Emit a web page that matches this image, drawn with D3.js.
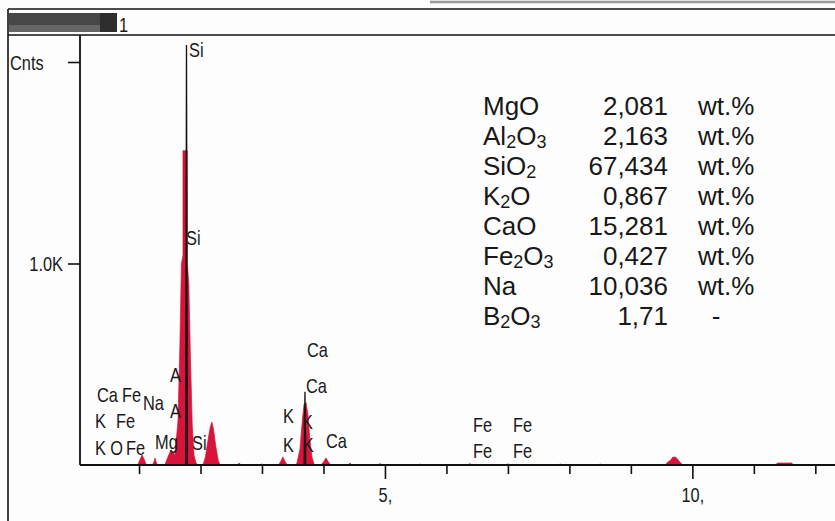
<!DOCTYPE html>
<html><head><meta charset="utf-8">
<script src="https://cdn.jsdelivr.net/npm/d3@7"></script>
<style>
html,body{margin:0;padding:0;background:#fff;}
svg{display:block;}
.lbl{font-family:"Liberation Sans Narrow","Arial Narrow","Liberation Sans",sans-serif;font-size:21px;fill:#1a1a1a;}
.tbl{font-family:"Liberation Sans",Arial,sans-serif;font-size:26px;fill:#181818;}
</style></head><body>
<svg id="c" width="835" height="521"></svg>
<script>
// ---- data ----
const xDomain = [0.04, 12.32];          // keV
const yDomain = [0, 2134];              // counts
const minorTicks = [1, 2, 3, 4, 6, 7, 8, 9, 11, 12];
const majorTicks = [5, 10];
const majorTickLabels = ["5,", "10,"];
const yTicks = [1000, 2000];
const yTickLabels = ["1.0K", "Cnts"];
const titleText = "1";

// red filled spectrum [keV, counts]
const spectrum = [
  [0.04,0],[0.97,0],[0.99,8],[1.02,30],[1.05,50],[1.08,30],[1.11,8],[1.13,0],
  [1.22,0],[1.245,18],[1.26,35],[1.275,18],[1.30,0],
  [1.42,0],[1.47,40],[1.52,75],[1.56,60],[1.585,50],[1.634,220],[1.665,600],[1.69,1000],
  [1.715,1040],[1.715,1560],[1.785,1560],[1.785,1000],[1.81,900],[1.835,550],[1.865,200],
  [1.894,50],[1.927,10],[1.96,0],
  [2.04,0],[2.08,40],[2.12,120],[2.16,190],[2.185,213],[2.21,180],[2.25,90],[2.29,20],[2.32,0],
  [2.60,0],[2.63,10],[2.66,0],[2.98,0],[3.00,6],[3.02,0],
  [3.27,0],[3.31,20],[3.34,40],[3.37,20],[3.41,0],
  [3.55,0],[3.569,10],[3.618,80],[3.65,200],[3.683,300],[3.715,310],[3.748,250],[3.78,120],[3.813,40],[3.846,5],[3.87,0],
  [3.96,0],[4.00,15],[4.04,35],[4.08,15],[4.12,0],
  [4.40,0],[4.43,10],[4.46,0],[4.89,0],[4.92,8],[4.95,0],[5.54,0],[5.57,5],[5.60,0],
  [6.35,0],[6.38,8],[6.41,0],[6.97,0],[7.00,6],[7.03,0],[7.82,0],[7.85,5],[7.88,0],[8.47,0],[8.50,5],[8.53,0],
  [9.56,0],[9.60,15],[9.64,22],[9.68,38],[9.72,40],[9.76,30],[9.80,12],[9.85,0],
  [11.36,0],[11.38,10],[11.62,10],[11.64,0],
  [12.32,0]
];
// black overlay spectrum [keV, counts]
const overlay = [
  [0.04,0],[1.758,0],[1.772,2084],[1.786,0],[3.686,0],[3.699,364],[3.712,0],[12.32,0]
];
// peak labels [text, keV (left edge), counts (baseline)]
const peakLabels = [
  ["Si",1.813,2025],["Si",1.764,1092],["Ca",3.732,536],["Ca",3.715,357],
  ["K",3.341,208],["K",3.650,179],["K",3.341,65],["K",3.665,65],["Ca",4.041,84],
  ["Ca",0.317,313],["Fe",0.724,313],["Na",1.065,273],["A",1.504,412],["A",1.504,233],
  ["K",0.285,184],["Fe",0.626,184],["K",0.285,50],["O",0.53,50],["Fe",0.79,50],
  ["Mg",1.260,79],["Si",1.862,74],
  ["Fe",6.431,164],["Fe",7.081,164],["Fe",6.431,35],["Fe",7.081,35]
];
// composition table
const compounds = ["MgO","Al2O3","SiO2","K2O","CaO","Fe2O3","Na","B2O3"];
const amounts = ["2,081","2,163","67,434","0,867","15,281","0,427","10,036","1,71"];
const units = ["wt.%","wt.%","wt.%","wt.%","wt.%","wt.%","wt.%","-"];

// ---- drawing ----
const svg = d3.select("#c");
const W = 835, H = 521;
const plot = {left: 80, right: 835, top: 35, bottom: 465};
const x = d3.scaleLinear().domain(xDomain).range([plot.left, plot.right]);
const y = d3.scaleLinear().domain(yDomain).range([plot.bottom, plot.top]);

svg.append("rect").attr("width", W).attr("height", H).attr("fill", "#fdfdfd");

// frame / title bar
svg.append("line").attr("x1", 8).attr("x2", W).attr("y1", 9).attr("y2", 9).attr("stroke", "#111").attr("stroke-width", 1.6);
svg.append("line").attr("x1", 8).attr("x2", W).attr("y1", 35).attr("y2", 35).attr("stroke", "#111").attr("stroke-width", 1.6);
svg.append("line").attr("x1", 8).attr("x2", 8).attr("y1", 9).attr("y2", H).attr("stroke", "#111").attr("stroke-width", 1.6);
svg.append("line").attr("x1", 430).attr("x2", W).attr("y1", 2).attr("y2", 2).attr("stroke", "#999").attr("stroke-width", 2.5);
// redacted title
svg.append("rect").attr("x", 9).attr("y", 13).attr("width", 108).attr("height", 19).attr("fill", "#474747");
svg.append("rect").attr("x", 9).attr("y", 25).attr("width", 108).attr("height", 7).attr("fill", "#666");
svg.append("rect").attr("x", 100).attr("y", 13).attr("width", 17).attr("height", 19).attr("fill", "#2e2e2e");
svg.append("text").attr("class", "lbl").attr("x", 119).attr("y", 32).text(titleText);

// spectrum
const area = d3.area().x(d => x(d[0])).y0(y(0)).y1(d => y(d[1]));
svg.append("path").datum(spectrum).attr("d", area).attr("fill", "#d8143a").attr("stroke", "#d8143a").attr("stroke-width", 0.7);
const line = d3.line().x(d => x(d[0])).y(d => y(d[1]));
svg.append("path").datum(overlay).attr("d", line).attr("fill", "none").attr("stroke", "#111").attr("stroke-width", 1.3);

// axes
const axisStyle = g => {
  g.select(".domain").remove();
  g.selectAll("line").attr("stroke", "#111").attr("stroke-width", 1.6);
  g.selectAll("text").attr("class", "lbl").attr("fill", "#1a1a1a")
    .attr("font-family", null).attr("font-size", null);
};
svg.append("g").attr("transform", `translate(0,${plot.bottom})`)
  .call(d3.axisBottom(x).tickValues(minorTicks).tickSize(9).tickFormat(""))
  .call(axisStyle);
svg.append("g").attr("transform", `translate(0,${plot.bottom})`)
  .call(d3.axisBottom(x).tickValues(majorTicks).tickSize(14).tickPadding(8)
    .tickFormat((d, i) => majorTickLabels[i]))
  .call(axisStyle);
const yAxisG = svg.append("g").attr("transform", `translate(${plot.left},0)`)
  .call(d3.axisLeft(y).tickValues(yTicks).tickSize(12).tickPadding(5)
    .tickFormat((d, i) => yTickLabels[i]))
  .call(axisStyle);
yAxisG.selectAll("text").attr("dy", "0.35em");
yAxisG.selectAll(".tick").filter(d => d === 2000).select("text")
  .attr("text-anchor", "start").attr("x", 10 - plot.left);

// axis lines
svg.append("line").attr("x1", plot.left).attr("x2", plot.left).attr("y1", plot.top).attr("y2", plot.bottom)
  .attr("stroke", "#111").attr("stroke-width", 1.8);
svg.append("line").attr("x1", plot.left).attr("x2", plot.right).attr("y1", plot.bottom).attr("y2", plot.bottom)
  .attr("stroke", "#111").attr("stroke-width", 1.8);

// peak labels
svg.append("g").selectAll("text").data(peakLabels).join("text")
  .attr("class", "lbl").attr("x", d => x(d[1])).attr("y", d => y(d[2])).text(d => d[0]);

// condense the label font (narrow face emulation)
svg.selectAll("text.lbl").each(function() {
  const w = this.getComputedTextLength();
  if (w > 0) d3.select(this).attr("textLength", w * 0.78).attr("lengthAdjust", "spacingAndGlyphs");
});

// composition table
const rowY = d3.scaleLinear().domain([0, 1]).range([115, 145]);
const tbl = svg.append("g");
compounds.forEach((name, i) => {
  const t = tbl.append("text").attr("class", "tbl").attr("x", 483).attr("y", rowY(i));
  name.match(/[A-Za-z]+|\d+/g).forEach(part => {
    if (/\d/.test(part)) {
      t.append("tspan").attr("font-size", 18).attr("dy", 3).text(part);
    } else {
      const ts = t.append("tspan").text(part);
      if (t.selectAll("tspan").size() > 1) ts.attr("dy", -3);
    }
  });
});
tbl.selectAll("text.amt").data(amounts).join("text").attr("class", "tbl amt")
  .attr("x", 668).attr("y", (d, i) => rowY(i)).attr("text-anchor", "end").text(d => d);
tbl.selectAll("text.unit").data(units).join("text").attr("class", "tbl unit")
  .attr("x", (d) => d === "-" ? 716 : 698).attr("y", (d, i) => rowY(i))
  .attr("text-anchor", d => d === "-" ? "middle" : "start").text(d => d);
</script>
</body></html>
